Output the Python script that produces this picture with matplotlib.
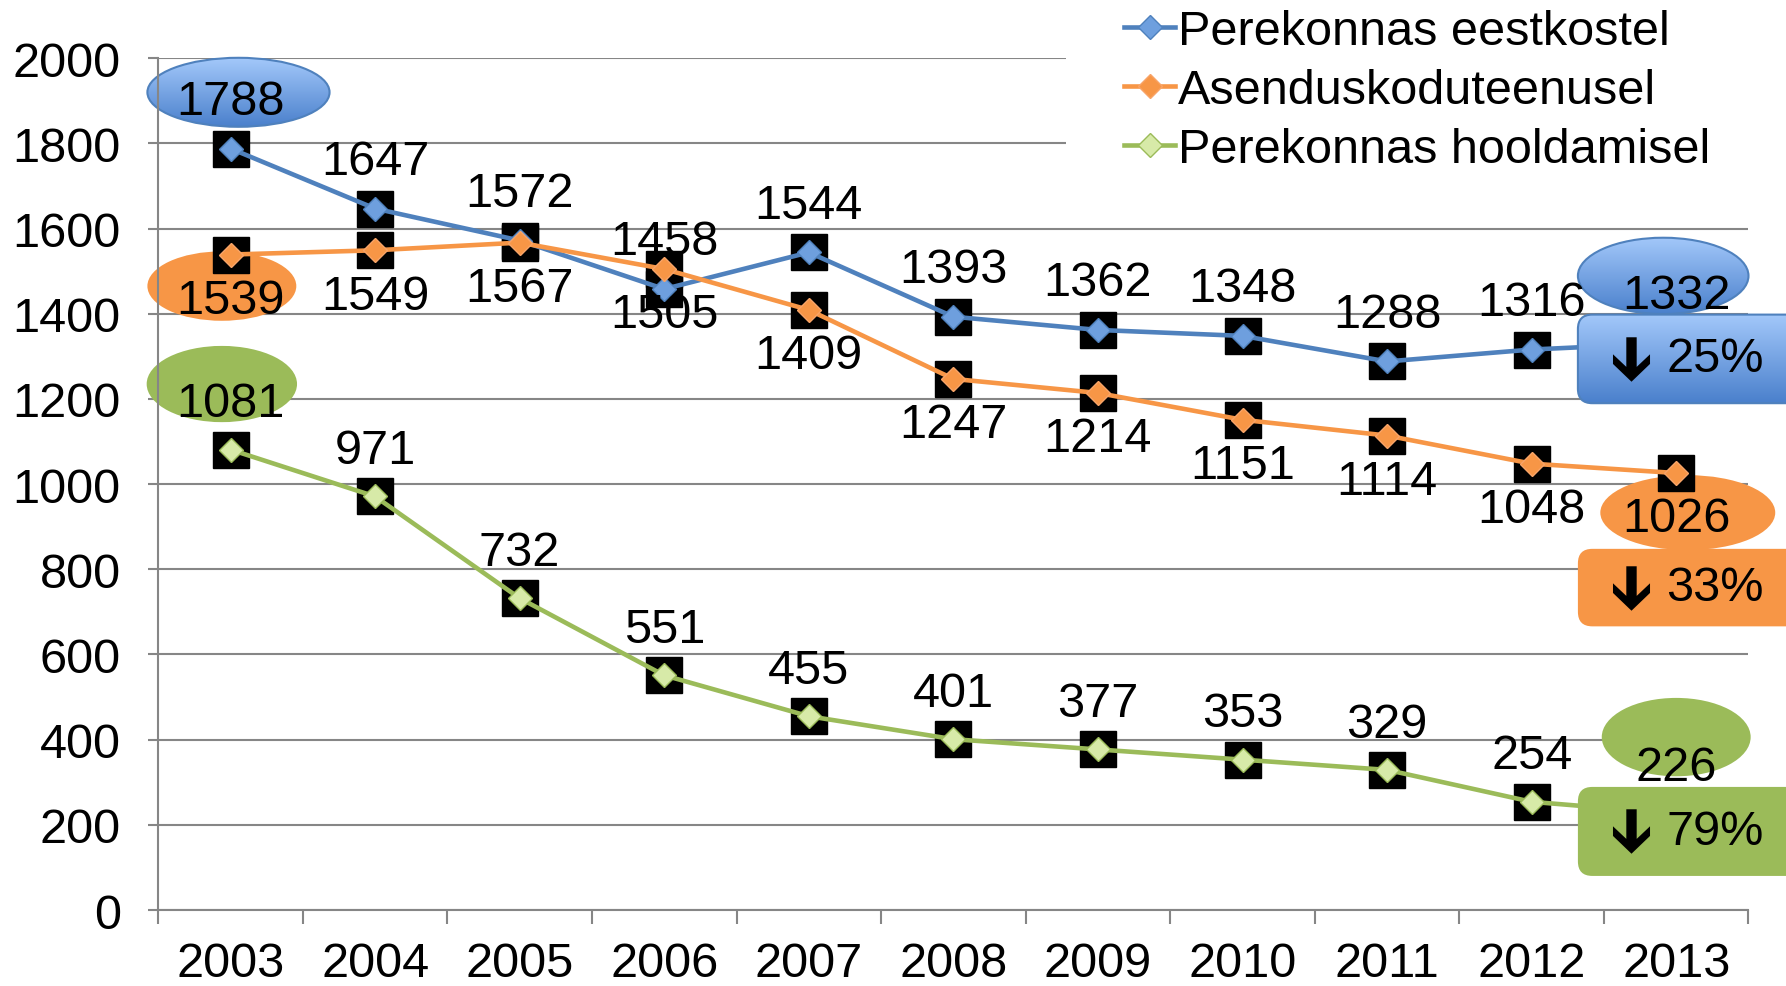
import numpy as np
import matplotlib
matplotlib.use("Agg")
import matplotlib.pyplot as plt
from matplotlib.patches import Ellipse, FancyBboxPatch, Rectangle
from matplotlib.colors import LinearSegmentedColormap
from matplotlib.path import Path

plt.rcParams['font.family'] = ['Liberation Sans', 'DejaVu Sans']

years = ['2003', '2004', '2005', '2006', '2007', '2008', '2009', '2010', '2011', '2012', '2013']
eestkoste = [1788, 1647, 1572, 1458, 1544, 1393, 1362, 1348, 1288, 1316, 1332]
asendus = [1539, 1549, 1567, 1505, 1409, 1247, 1214, 1151, 1114, 1048, 1026]
hooldus = [1081, 971, 732, 551, 455, 401, 377, 353, 329, 254, 226]
series_names = ['Perekonnas eestkostel', 'Asenduskoduteenusel', 'Perekonnas hooldamisel']
drops = ['25%', '33%', '79%']

BLUE = '#4F81BD'
ORANGE = '#F79646'
GREEN = '#9BBB59'
FS = 35

fig = plt.figure(figsize=(17.86, 9.87), dpi=100)
ax = fig.add_axes([0.0886, 0.077, 0.979 - 0.0886, 0.940 - 0.077])
x = np.arange(len(years))

blue_grad = LinearSegmentedColormap.from_list('bg', ['#A3C8FA', '#4A80CC'])


def gradient_fill(patch, x0, x1, y0, y1):
    # vertical gradient clipped to a patch
    grad = np.linspace(0, 1, 256).reshape(-1, 1)
    im = ax.imshow(grad, cmap=blue_grad, extent=(x0, x1, y0, y1), origin='upper',
                   aspect='auto', zorder=patch.get_zorder() - 0.1)
    im.set_clip_box(fig.bbox)
    im.set_clip_path(patch)


# ellipses behind labels of the first and last year
ellipses = [
    (0.055, 1920, 1.26, 162, 'blue'),
    (-0.06, 1465, 1.03, 163, ORANGE),
    (-0.06, 1235, 1.04, 179, GREEN),
    (9.91, 1489, 1.18, 179, 'blue'),
    (10.08, 933, 1.21, 176, ORANGE),
    (10.0, 406, 1.03, 184, GREEN),
]
for cx, cy, w, h, col in ellipses:
    if col == 'blue':
        e = Ellipse((cx, cy), w, h, facecolor='none', edgecolor=BLUE, lw=1.5,
                    zorder=2.5, clip_on=False)
        ax.add_patch(e)
        gradient_fill(e, cx - w / 2, cx + w / 2, cy - h / 2, cy + h / 2)
    else:
        ax.add_patch(Ellipse((cx, cy), w, h, facecolor=col, edgecolor='none',
                             zorder=2.5, clip_on=False))

# black squares behind every point
for vals in (eestkoste, asendus, hooldus):
    ax.plot(x, vals, 's', color='black', ms=26, zorder=3, clip_on=False)

ax.plot(x, eestkoste, '-D', color=BLUE, lw=3.3, ms=12.5, mfc='#6E9FDE', mec=BLUE,
        label=series_names[0], zorder=4)
ax.plot(x, asendus, '-D', color=ORANGE, lw=3.3, ms=12.5, mfc=ORANGE, mec='#F8A468',
        label=series_names[1], zorder=4)
ax.plot(x, hooldus, '-D', color=GREEN, lw=3.3, ms=12.5, mfc='#D7EAA8', mec=GREEN,
        label=series_names[2], zorder=4)

# data labels
for xi, v in zip(x, eestkoste):
    ax.annotate(str(v), (xi, v), xytext=(0, 34), textcoords='offset points',
                ha='center', va='center', fontsize=FS, zorder=6)
for xi, v in zip(x, asendus):
    ax.annotate(str(v), (xi, v), xytext=(0, -33), textcoords='offset points',
                ha='center', va='center', fontsize=FS, zorder=6)
for xi, v in zip(x, hooldus):
    ax.annotate(str(v), (xi, v), xytext=(0, 33), textcoords='offset points',
                ha='center', va='center', fontsize=FS, zorder=6)

# thick down arrow shape
arrow_verts = [(-0.14, 0.6), (0.14, 0.6), (0.14, -0.2), (0.5, 0.14), (0.5, -0.12),
               (0.0, -0.6), (-0.5, -0.12), (-0.5, 0.14), (-0.14, -0.2), (-0.14, 0.6)]
arrow_path = Path(arrow_verts, closed=True)

# change boxes at the right edge
boxes = [(1190, 1398, 'blue', drops[0]), (666, 848, ORANGE, drops[1]), (80, 289, GREEN, drops[2])]
bx0, bx1 = 9.32, 11.0
for y0, y1, col, txt in boxes:
    fb = FancyBboxPatch((bx0, y0), bx1 - bx0, y1 - y0,
                        boxstyle='round,pad=0,rounding_size=0.1', mutation_aspect=340,
                        facecolor=col if col != 'blue' else 'none',
                        edgecolor=BLUE if col == 'blue' else 'none', lw=1.5,
                        zorder=5, clip_on=False)
    ax.add_patch(fb)
    if col == 'blue':
        gradient_fill(fb, bx0, bx1, y0, y1)
    yc = (y0 + y1) / 2
    ax.plot([9.69], [yc], marker=arrow_path, ms=32, color='black', mew=0,
            zorder=7, clip_on=False)
    ax.text(9.93, yc, txt, fontsize=FS, ha='left', va='center', zorder=7, clip_on=False)

# axes styling
ax.set_xlim(-0.5, 10.5)
ax.set_ylim(0, 2000)
ax.set_yticks(np.arange(0, 2001, 200))
ax.set_xticks(x)
ax.set_xticklabels(years)
ax.set_xticks(np.arange(-0.5, 10.6, 1), minor=True)
ax.tick_params(axis='x', which='major', length=0, pad=22, labelsize=FS)
ax.tick_params(axis='x', which='minor', length=10, width=1.5, color='#868686')
ax.tick_params(axis='y', length=7, width=1.5, color='#868686', pad=20, labelsize=FS)
ax.grid(axis='y', color='#868686', lw=1.5, zorder=1)
ax.set_axisbelow(True)
for s in ('top', 'right'):
    ax.spines[s].set_visible(False)
for s in ('left', 'bottom'):
    ax.spines[s].set_color('#868686')
    ax.spines[s].set_linewidth(1.5)

# white area behind the legend
fig.add_artist(Rectangle((0.597, 0.82), 0.403, 0.18, transform=fig.transFigure,
                         facecolor='white', edgecolor='none', zorder=9))
leg = fig.legend(loc='upper left', bbox_to_anchor=(0.628, 0.992), fontsize=FS,
                 frameon=False, handlelength=1.05, handletextpad=0.05, labelspacing=0.28,
                 borderpad=0.05, borderaxespad=0)
leg.set_zorder(10)

fig.savefig('out.png', dpi=100)
